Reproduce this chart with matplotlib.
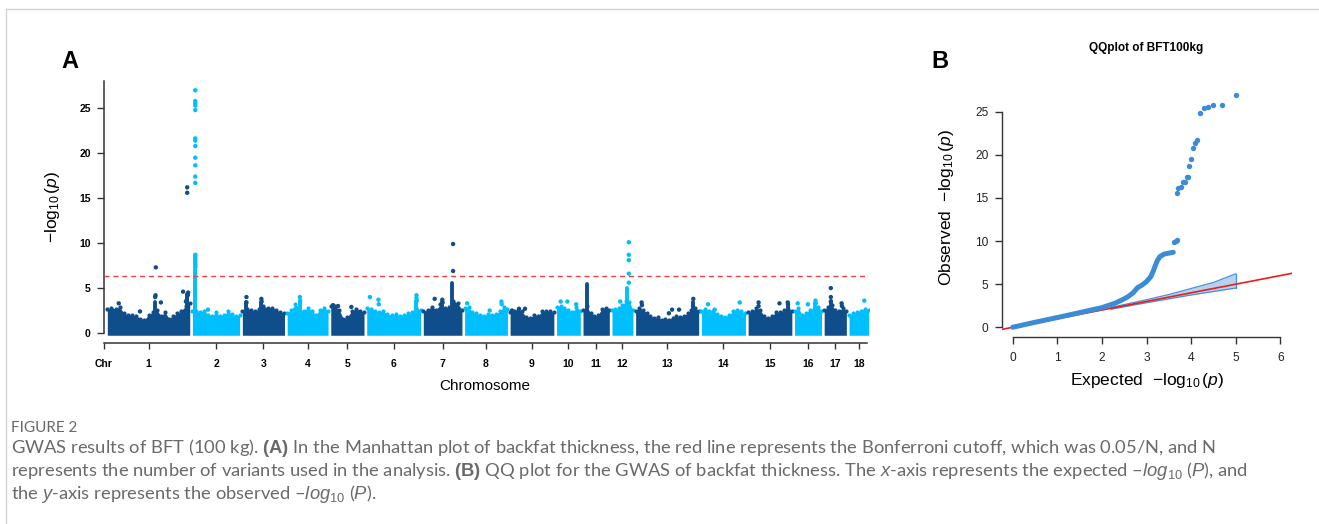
import numpy as np
import matplotlib
matplotlib.use('Agg')
import matplotlib.pyplot as plt
from matplotlib.lines import Line2D

plt.rcParams['font.family'] = ['Liberation Sans', 'DejaVu Sans']
plt.rcParams['mathtext.fontset'] = 'custom'
plt.rcParams['mathtext.rm'] = 'Liberation Sans'
plt.rcParams['mathtext.it'] = 'Liberation Sans:italic'
plt.rcParams['mathtext.bf'] = 'Liberation Sans:bold'

# ---- Manhattan data (positions in Mb, values = -log10 p) ----
chrom_names = ['1', '2', '3', '4', '5', '6', '7', '8', '9', '10',
               '11', '12', '13', '14', '15', '16', '17', '18']
chrom_len = [260, 149, 133, 129, 105, 170, 122, 135, 138, 75,
             83, 66, 199, 139, 138, 85, 70, 62]
# upper edge of the dense cloud of SNPs, left to right along each chromosome
body_tops = [
    [2.7, 2.8, 2.7, 2.9, 2.2, 2.0, 2.0, 1.9, 1.6, 1.5, 2.0, 2.3, 2.6, 1.9, 2.3, 1.6, 1.9, 2.2, 2.5, 3.0, 3.3],
    [2.5, 2.4, 2.3, 2.5, 2.0, 1.9, 2.3, 1.9, 2.0, 2.4, 2.1, 1.9, 2.0],
    [2.4, 2.7, 2.6, 2.4, 2.7, 3.0, 2.8, 2.8, 2.6, 2.3, 2.2],
    [2.2, 2.6, 3.2, 2.8, 2.4, 2.8, 2.5, 2.0, 2.6, 2.8, 2.5],
    [3.0, 3.0, 2.6, 1.6, 1.8, 2.4, 2.7, 2.5, 2.3],
    [2.8, 2.7, 2.5, 2.3, 2.4, 2.1, 2.0, 2.1, 1.9, 2.0, 2.2, 2.3, 2.8, 2.6],
    [2.4, 2.6, 2.9, 2.6, 3.2, 2.8, 2.9, 3.6, 3.3, 2.6],
    [2.8, 2.9, 2.3, 2.2, 2.0, 1.9, 2.1, 2.0, 2.1, 2.4, 2.9, 2.7],
    [2.3, 2.5, 2.6, 2.4, 1.8, 1.7, 2.0, 1.9, 2.4, 2.5, 2.4, 2.3],
    [2.9, 3.0, 2.8, 2.6, 2.3, 2.9, 2.5],
    [2.6, 3.0, 2.2, 1.9, 2.0, 2.7, 2.8, 2.6],
    [2.6, 2.7, 2.8, 3.1, 3.6, 3.4, 2.6],
    [2.4, 2.8, 2.6, 2.2, 1.9, 1.7, 1.8, 1.5, 1.6, 1.5, 1.7, 1.9, 1.8, 1.9, 2.2, 2.6, 2.8, 2.5],
    [2.5, 2.7, 2.4, 2.5, 2.1, 1.9, 1.8, 2.0, 2.5, 2.6, 2.4, 2.2],
    [2.3, 2.4, 2.8, 2.6, 1.9, 1.7, 1.9, 2.3, 2.3, 2.6, 2.7, 2.5],
    [2.5, 2.8, 2.0, 2.2, 2.6, 2.7, 2.9, 2.5],
    [2.6, 2.9, 3.1, 2.6, 2.4, 2.8, 2.5],
    [2.0, 2.2, 2.3, 2.5, 2.7, 2.6],
]
# dense vertical stacks of SNPs (chromosome index, position, top value)
col_chr = [1, 6, 10, 11, 16, 0, 0, 2, 2, 3, 5, 6, 12, 14, 15]
col_pos = [9, 92, 12, 48, 21, 152, 252, 13, 60, 40, 157, 60, 182, 125, 66]
col_top = [7.0, 5.6, 5.5, 5.0, 3.6, 3.5, 4.3, 3.4, 3.5, 3.6, 3.6, 3.4, 3.4, 3.2, 3.3]
# single visible SNPs above the cloud
snp_chr = [0, 0, 0, 0, 0, 0, 0, 0, 0, 0, 0, 0, 0,
           1, 1, 1, 1, 1, 1, 1, 1, 1, 1, 1, 1, 1, 1, 1, 1, 1, 1, 1, 1, 1,
           2, 2, 2, 2, 3, 3, 4, 4, 4, 5, 5, 5, 5, 5, 5,
           6, 6, 6, 6, 6, 7, 7, 7, 7, 8, 8, 8, 9, 9, 9,
           11, 11, 11, 11, 11, 11, 12, 12, 12, 12, 12, 12, 12,
           13, 13, 13, 14, 14, 14, 14, 14, 15, 15, 15, 15,
           16, 16, 16, 16, 16, 17]
snp_pos = [36, 103, 153, 152, 151, 169, 239, 255, 254, 251, 248, 252, 252,
           9, 9, 9, 9, 9, 9, 9, 9, 9, 9, 9, 9, 9, 9, 9, 9, 9, 9, 9, 9, 49,
           13, 13, 60, 61, 40, 41, 7, 23, 65, 10, 37, 38, 157, 157, 158,
           36, 60, 61, 94, 94, 8, 79, 116, 117, 6, 28, 47, 13, 34, 62,
           26, 53, 53, 53, 53, 53, 19, 20, 105, 115, 137, 181, 182,
           21, 42, 121, 33, 33, 99, 125, 126, 10, 42, 66, 67,
           21, 21, 21, 55, 56, 48]
snp_val = [3.3, 2.4, 7.3, 4.2, 4.0, 3.4, 4.6, 4.5, 4.2, 3.7, 3.5, 16.2, 15.6,
           27.0, 25.8, 25.55, 25.3, 24.8, 21.65, 21.4, 20.8, 19.5, 18.65, 17.4, 16.7,
           8.7, 8.5, 8.3, 8.1, 7.9, 7.7, 7.5, 7.3, 2.6,
           4.0, 3.4, 3.8, 3.5, 4.0, 3.6, 3.1, 3.0, 2.9, 4.0, 3.7, 3.2, 4.2, 3.9, 3.6,
           3.8, 3.7, 3.4, 6.9, 9.9, 3.3, 2.5, 3.5, 3.2, 2.5, 2.7, 2.7, 3.5, 3.5, 3.2,
           3.5, 5.6, 6.6, 8.1, 8.7, 10.1, 3.4, 3.1, 2.2, 2.6, 2.6, 3.0, 3.8,
           3.2, 2.6, 3.4, 3.4, 3.0, 3.3, 3.4, 3.2, 3.3, 3.2, 3.6, 3.3,
           5.0, 4.0, 3.5, 3.3, 3.0, 3.6]
bonferroni = 6.3
ytick_vals = [0, 5, 10, 15, 20, 25]

# ---- QQ data ----
qq_curve_x = [0.0, 0.5, 1.0, 1.5, 2.0, 2.3, 2.5, 2.6, 2.7, 2.8, 2.9, 3.0, 3.1, 3.15,
              3.2, 3.25, 3.3, 3.4, 3.5, 3.6]
qq_curve_y = [0.0, 0.58, 1.13, 1.7, 2.28, 2.8, 3.3, 3.6, 4.0, 4.6, 4.9, 5.3, 5.9, 6.5,
              7.2, 7.8, 8.2, 8.5, 8.6, 8.7]
qq_pts_x = [3.62, 3.66, 3.69, 3.68, 3.71, 3.78, 3.82, 3.86, 3.9, 3.93, 3.96, 3.99,
            4.04, 4.09, 4.14, 4.2, 4.28, 4.38, 4.5, 4.7, 5.0]
qq_pts_y = [9.9, 10.0, 10.1, 15.6, 16.2, 16.3, 16.8, 16.9, 17.4, 17.4, 18.7, 19.5,
            20.8, 21.4, 21.7, 24.8, 25.4, 25.6, 25.75, 25.75, 27.0]
band_x = [2.2, 3.0, 3.5, 4.0, 4.5, 5.0]
band_hi = [2.3, 3.2, 3.8, 4.5, 5.2, 6.2]
band_lo = [2.1, 2.85, 3.3, 3.75, 4.15, 4.55]
qq_xticks = [0, 1, 2, 3, 4, 5, 6]

dark, light = '#104E8B', '#00BFFF'
W, H = 1319, 524
fig = plt.figure(figsize=(W / 100, H / 100), dpi=100)


def fx(x):
    return x / W


def fy(y):
    return 1 - y / H


# frame lines of the page
fig.add_artist(Line2D([fx(6), 1], [fy(9), fy(9)], color='#d4d4d4', lw=1))
fig.add_artist(Line2D([fx(6), fx(6)], [fy(9), 0], color='#d4d4d4', lw=1))

# ================= Panel A =================
gap = 8.5
offsets = np.concatenate([[0], np.cumsum(np.array(chrom_len[:-1]) + gap)])
x_end = offsets[-1] + chrom_len[-1]
ax = fig.add_axes([fx(104), fy(342.9), fx(868.7 - 104), 261.6 / H])
ax.set_xlim(-10.5, x_end)
ax.set_ylim(-1.1, 28)

for i in range(len(chrom_len)):
    c = dark if i % 2 == 0 else light
    h = np.array(body_tops[i])
    xs = offsets[i] + np.linspace(0, chrom_len[i], len(h))
    ax.fill_between(xs, -0.25, h, color=c, lw=0, zorder=2)
    ax.scatter(xs, h, s=9, color=c, lw=0, zorder=3)

for k in range(len(col_chr)):
    c = dark if col_chr[k] % 2 == 0 else light
    x = offsets[col_chr[k]] + col_pos[k]
    ax.plot([x, x], [0, col_top[k]], color=c, lw=2.8, solid_capstyle='round', zorder=3)

sx = [offsets[c] + p for c, p in zip(snp_chr, snp_pos)]
sc = [dark if c % 2 == 0 else light for c in snp_chr]
ax.scatter(sx, snp_val, s=10, c=sc, lw=0, zorder=4)

ax.axhline(bonferroni, color='#F04040', lw=1.0, dashes=(3.6, 2.8), zorder=5)

for s in ['top', 'right']:
    ax.spines[s].set_visible(False)
for s in ['left', 'bottom']:
    ax.spines[s].set_color('#333333')
    ax.spines[s].set_linewidth(1.1)
ax.spines['left'].set_bounds(0, 28)
ax.spines['bottom'].set_bounds(-10.5, x_end - 6)
ax.set_yticks(ytick_vals)
ax.set_yticklabels([str(v) for v in ytick_vals], fontsize=7.5, fontweight='bold')
mids = [-10.5] + [offsets[i] + chrom_len[i] / 2 for i in range(len(chrom_len))]
ax.set_xticks(mids)
ax.set_xticklabels(['Chr'] + chrom_names, fontsize=7.5, fontweight='bold')
ax.tick_params(axis='y', length=5, width=1, pad=4.5, color='#333333')
ax.tick_params(axis='x', length=4.5, width=1, pad=7, color='#333333')
ax.patch.set_alpha(0)

fig.text(fx(52), fy(207), r'$-\log_{10}(\mathit{p})$', rotation=90,
         ha='center', va='center', fontsize=12.5)
fig.text(fx(485), fy(386), 'Chromosome', ha='center', va='center', fontsize=11)
fig.text(fx(70), fy(62), 'A', ha='center', va='center', fontsize=17, fontweight='bold')

# ================= Panel B =================
qc = '#3B8BD6'
bx = fig.add_axes([fx(1001.5), fy(336.6), fx(290), 251.4 / H])
bx.set_xlim(-0.25, 6.25)
bx.set_ylim(-1.08, 28.08)
bx.fill_between(band_x, band_lo, band_hi, color='#B4D3EF', lw=0, zorder=2)
bx.plot(band_x, band_hi, color='#4A8FD4', lw=0.9, zorder=2)
bx.plot(band_x, band_lo, color='#4A8FD4', lw=0.9, zorder=2)
bx.plot([band_x[-1], band_x[-1]], [band_lo[-1], band_hi[-1]], color='#4A8FD4', lw=0.9, zorder=2)
bx.axline((0, 0), slope=1, color='#EE1C1C', lw=1.2, zorder=3)
bx.plot(qq_curve_x, qq_curve_y, color=qc, lw=3.6, solid_capstyle='round',
        solid_joinstyle='round', zorder=4)
bx.scatter(qq_pts_x, qq_pts_y, s=15, color=qc, lw=0, zorder=4)

for s in ['top', 'right']:
    bx.spines[s].set_visible(False)
for s in ['left', 'bottom']:
    bx.spines[s].set_color('#333333')
    bx.spines[s].set_linewidth(1.0)
bx.spines['left'].set_bounds(0, 25)
bx.spines['bottom'].set_bounds(0, 6)
bx.set_yticks(ytick_vals)
bx.set_xticks(qq_xticks)
bx.tick_params(labelsize=8.6, length=5, width=1, color='#333333', labelcolor='#222222')
bx.tick_params(axis='x', pad=6)
bx.tick_params(axis='y', pad=4.5)
bx.patch.set_alpha(0)

fig.text(fx(946.7), fy(207), r'Observed  $-\log_{10}(\mathit{p})$', rotation=90,
         ha='center', va='center', fontsize=12.5)
fig.text(fx(1146.7), fy(381), r'Expected  $-\log_{10}(\mathit{p})$',
         ha='center', va='center', fontsize=12.5)
fig.text(fx(1146), fy(48), 'QQplot of BFT100kg', ha='center', va='center',
         fontsize=8.5, fontweight='bold')
fig.text(fx(940), fy(62), 'B', ha='center', va='center', fontsize=17, fontweight='bold')

# ================= Caption =================
cap_color = '#6a6a6a'
cap_font = ['Lato', 'DejaVu Sans']
cap_lines = [
    r'GWAS results of BFT (100 kg). $\mathbf{(A)}$ In the Manhattan plot of backfat thickness, '
    r'the red line represents the Bonferroni cutoff, which was 0.05/N, and N',
    r'represents the number of variants used in the analysis. $\mathbf{(B)}$ QQ plot for the GWAS '
    r'of backfat thickness. The $\mathit{x}$-axis represents the expected –$\mathit{log}_{10}$ ($\mathit{P}$), and',
    r'the $\mathit{y}$-axis represents the observed –$\mathit{log}_{10}$ ($\mathit{P}$).',
]
cap_y = [448, 471, 494]
fig.text(fx(11), fy(428), 'FIGURE 2', ha='left', va='center', fontsize=11,
         color=cap_color, family=cap_font)
texts = []
for line, y in zip(cap_lines, cap_y):
    texts.append(fig.text(fx(11), fy(y), line, ha='left', va='center', fontsize=12,
                          color=cap_color, family=cap_font))
# fit caption size: lines 1 and 2 end near x = 1163 and 1297 px
r = fig.canvas.get_renderer()
wsum = texts[0].get_window_extent(r).width + texts[1].get_window_extent(r).width
scale = ((1163 - 11) + (1297 - 11)) / wsum
for t in texts:
    t.set_fontsize(12 * scale)

fig.savefig('out.png', dpi=100)
